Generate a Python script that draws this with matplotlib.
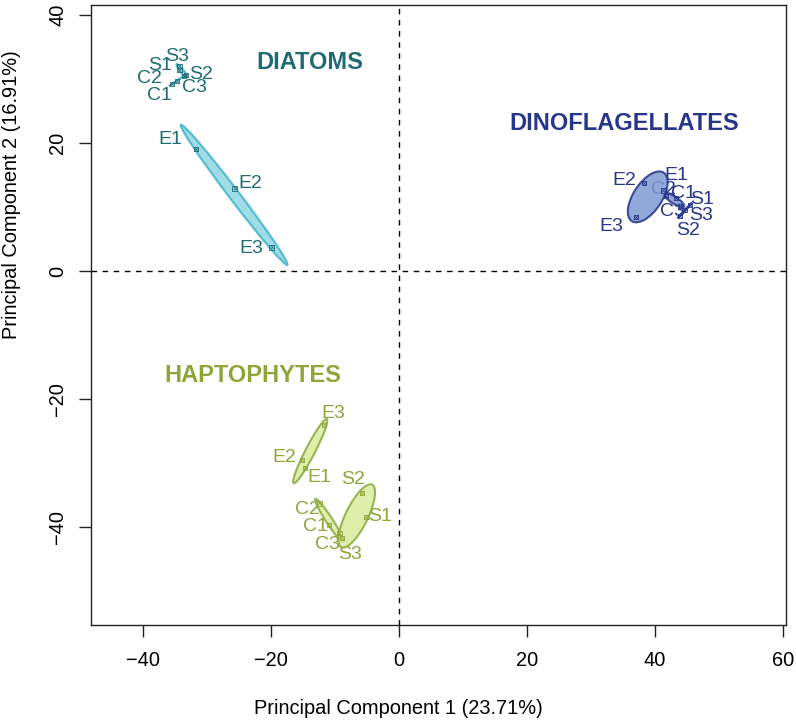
import numpy as np
import matplotlib
matplotlib.use("Agg")
import matplotlib.pyplot as plt
from matplotlib.patches import Ellipse

plt.rcParams['font.family'] = ['Liberation Sans', 'DejaVu Sans']

# ---------------- data ----------------
sample_labels = ['C1', 'C2', 'C3', 'S1', 'S2', 'S3', 'E1', 'E2', 'E3']
treatments = ['C', 'S', 'E']

diatoms_pc1 = [-35.5, -34.7, -33.6, -34.3, -33.3, -34.3, -31.7, -25.7, -19.9]
diatoms_pc2 = [29.2, 29.7, 30.5, 31.4, 30.6, 32.0, 19.1, 12.9, 3.7]

dino_pc1 = [43.3, 41.7, 43.9, 45.5, 43.9, 44.6, 41.3, 38.3, 37.0]
dino_pc2 = [11.4, 11.7, 10.2, 10.3, 8.6, 9.5, 12.6, 13.75, 8.4]

hapto_pc1 = [-10.9, -12.45, -9.3, -5.1, -5.8, -8.9, -14.7, -15.2, -11.7]
hapto_pc2 = [-39.7, -36.3, -40.9, -38.4, -34.7, -41.7, -30.8, -29.5, -24.1]

group_names = ['DIATOMS', 'DINOFLAGELLATES', 'HAPTOPHYTES']
group_title_pos = [(-13.9, 32.5), (35.2, 23.1), (-22.8, -16.25)]

x_label = 'Principal Component 1 (23.71%)'
y_label = 'Principal Component 2 (16.91%)'
x_ticks = [-40, -20, 0, 20, 40, 60]
y_ticks = [-40, -20, 0, 20, 40]

# ---------------- styles ----------------
text_colors = ['#1f6b74', '#27368a', '#8fa53a']
fill_colors = ['#8ed6e2', '#7d9ad2', '#dbec9c']
edge_colors = ['#3cb4c8', '#25348a', '#8aa93a']

# label offsets in pixels (dx right, dy down)
label_offsets = [
    {'C1': (-12, 11), 'C2': (-27, -2), 'C3': (10, 12), 'S1': (-19, -5), 'S2': (15, -1),
     'S3': (-2, -10), 'E1': (-26, -9), 'E2': (16, -5), 'E3': (-20, 1)},
    {'C1': (7, -5), 'C2': (-2, -7), 'C3': (-8, 6), 'S1': (12, -6), 'S2': (8, 15),
     'S3': (17, 5), 'E1': (13, -15), 'E2': (-20, -3), 'E3': (-24, 9)},
    {'C1': (-14, 1), 'C2': (-12, 6), 'C3': (-12, 12), 'S1': (14, 0), 'S2': (-9, -14),
     'S3': (8, 17), 'E1': (14, 9), 'E2': (-17, -2), 'E3': (9, -12)},
]

ELL_SCALE = 1.413

fig = plt.figure(figsize=(7.96, 7.21), dpi=100)
ax = fig.add_axes([91 / 796, 1 - 625 / 721, 695 / 796, 620 / 721])
ax.set_xlim(-48.125, 60.47)
ax.set_ylim(-55.3, 41.56)

ax.axhline(0, color='black', lw=1.0, ls=(0, (4, 4)), zorder=1)
ax.axvline(0, color='black', lw=1.0, ls=(0, (4, 4)), zorder=1)

groups = [(diatoms_pc1, diatoms_pc2), (dino_pc1, dino_pc2), (hapto_pc1, hapto_pc2)]

for gi, (gx, gy) in enumerate(groups):
    gx = np.asarray(gx, float)
    gy = np.asarray(gy, float)
    # labels
    for li, lab in enumerate(sample_labels):
        dx, dy = label_offsets[gi][lab]
        ax.annotate(lab, (gx[li], gy[li]), xytext=(dx, -dy), textcoords='offset pixels',
                    ha='center', va='center', fontsize=14, color=text_colors[gi], zorder=2)
    # ellipses per treatment
    for t in treatments:
        idx = [i for i, s in enumerate(sample_labels) if s.startswith(t)]
        px, py = gx[idx], gy[idx]
        cov = np.cov(px, py)
        vals, vecs = np.linalg.eigh(cov)
        order = vals.argsort()[::-1]
        vals, vecs = vals[order], vecs[:, order]
        vals = np.clip(vals, 1e-4, None)
        w = 2 * ELL_SCALE * np.sqrt(vals[0])
        h = 2 * ELL_SCALE * np.sqrt(vals[1])
        ang = np.degrees(np.arctan2(vecs[1, 0], vecs[0, 0]))
        e = Ellipse((px.mean(), py.mean()), w, h, angle=ang,
                    facecolor=fill_colors[gi], edgecolor=edge_colors[gi],
                    lw=1.5, alpha=0.85, zorder=3)
        ax.add_patch(e)
    # markers
    ax.scatter(gx, gy, marker='s', s=10, facecolors='none', edgecolors=text_colors[gi],
               linewidths=0.6, zorder=4)
    ax.scatter(gx, gy, marker='x', s=8, color=text_colors[gi], linewidths=0.5, zorder=4)
    # group title
    tx, ty = group_title_pos[gi]
    ax.text(tx, ty, group_names[gi], ha='center', va='center', fontsize=17,
            fontweight='bold', color=text_colors[gi], zorder=5)

ax.set_xticks(x_ticks)
ax.set_yticks(y_ticks)
ax.set_xticklabels([str(v).replace('-', '\u2212') for v in x_ticks])
ax.set_yticklabels([str(v).replace('-', '\u2212') for v in y_ticks], rotation=90, va='center')
ax.tick_params(axis='both', direction='out', length=8.6, width=1.0, labelsize=14.4, color='#222222')
ax.tick_params(axis='x', pad=10)
ax.tick_params(axis='y', pad=8.5)
for sp in ax.spines.values():
    sp.set_linewidth(1.0)
    sp.set_color('#222222')

fig.text(398 / 796, 1 - 708 / 721, x_label, ha='center', va='center', fontsize=14.4)
fig.text(12 / 796, 1 - 195 / 721, y_label, ha='center', va='center', fontsize=14.4, rotation=90)

fig.savefig('out.png', dpi=100)
